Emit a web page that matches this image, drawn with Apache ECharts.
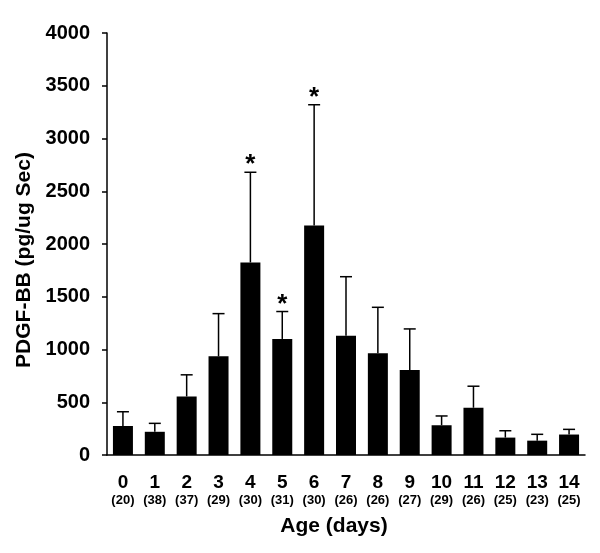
<!DOCTYPE html>
<html>
<head>
<meta charset="utf-8">
<script src="https://cdn.jsdelivr.net/npm/echarts@6/dist/echarts.min.js"></script>
<style>
  html, body { margin: 0; padding: 0; background: #fff; }
  #chart { width: 600px; height: 553px; }
</style>
</head>
<body>
<div id="chart"></div>
<script>
const days = ['0', '1', '2', '3', '4', '5', '6', '7', '8', '9', '10', '11', '12', '13', '14']
const counts = ['20', '38', '37', '29', '30', '31', '30', '26', '26', '27', '29', '26', '25', '23', '25']
const means = [275, 220, 555, 935, 1825, 1100, 2175, 1130, 965, 805, 282, 448, 165, 136, 194]
const upper = [410, 300, 760, 1340, 2680, 1360, 3320, 1690, 1400, 1195, 370, 652, 230, 196, 243]
const significant = [0, 0, 0, 0, 1, 1, 1, 0, 0, 0, 0, 0, 0, 0, 0]

const font = 'Arial, "Liberation Sans", Helvetica, sans-serif'

const chart = echarts.init(document.getElementById('chart'))

const option = {
  animation: false,
  grid: { left: 107, right: 15, top: 33, bottom: 98 },
  xAxis: {
    type: 'category',
    data: days.map((d, i) => d + '\n' + counts[i]),
    name: 'Age (days)',
    nameLocation: 'middle',
    nameGap: 61,
    nameTextStyle: {
      fontFamily: font, fontWeight: 'bold', fontSize: 21, color: '#000',
      padding: [0, 24, 0, 0]
    },
    axisLine: { lineStyle: { color: '#000', width: 1.5 } },
    axisTick: { alignWithLabel: true, length: 5, lineStyle: { color: '#000', width: 1.5 } },
    axisLabel: {
      margin: 18,
      interval: 0,
      formatter: v => {
        const [d, c] = v.split('\n')
        return '{n|' + d + '}\n{p|(' + c + ')}'
      },
      rich: {
        n: { fontFamily: font, fontWeight: 'bold', fontSize: 19, color: '#000', lineHeight: 20 },
        p: { fontFamily: font, fontWeight: 'bold', fontSize: 13, color: '#000', lineHeight: 15 }
      }
    }
  },
  yAxis: {
    type: 'value',
    min: 0,
    max: 4000,
    interval: 500,
    name: 'PDGF-BB (pg/ug Sec)',
    nameLocation: 'middle',
    nameGap: 66,
    nameTextStyle: {
      fontFamily: font, fontWeight: 'bold', fontSize: 21, color: '#000',
      padding: [0, 32, 0, 0] // nudge down a bit like the original
    },
    axisLine: { show: true, lineStyle: { color: '#000', width: 1.5 } },
    axisTick: { show: true, length: 5, lineStyle: { color: '#000', width: 1.5 } },
    splitLine: { show: false },
    axisLabel: {
      margin: 17,
      formatter: v => String(v),
      fontFamily: font, fontWeight: 'bold', fontSize: 20, color: '#000'
    }
  },
  series: [
    {
      type: 'bar',
      data: means,
      barWidth: 20,
      itemStyle: { color: '#000' }
    },
    {
      type: 'custom',
      data: means.map((m, i) => [i, m, upper[i], significant[i]]),
      renderItem: (params, api) => {
        const base = api.coord([api.value(0), api.value(1)])
        const top = api.coord([api.value(0), api.value(2)])
        const x = base[0]
        const children = [
          { type: 'line', shape: { x1: x, y1: base[1], x2: x, y2: top[1] }, style: { stroke: '#000', lineWidth: 1.5 } },
          { type: 'line', shape: { x1: x - 6, y1: top[1], x2: x + 6, y2: top[1] }, style: { stroke: '#000', lineWidth: 1.5 } }
        ]
        if (api.value(3)) {
          children.push({
            type: 'text',
            style: {
              text: '*', x: x, y: top[1] + 6,
              align: 'center', verticalAlign: 'bottom',
              font: 'bold 26px ' + font, fill: '#000'
            }
          })
        }
        return { type: 'group', children }
      },
      z: 3
    }
  ]
}

chart.setOption(option)
</script>
</body>
</html>
